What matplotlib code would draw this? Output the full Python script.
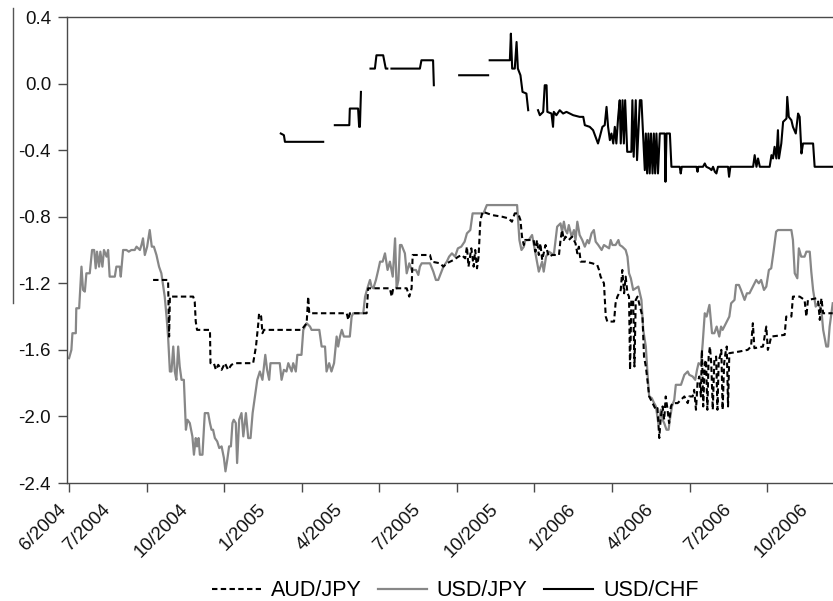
import numpy as np
import matplotlib
matplotlib.use("Agg")
import matplotlib.pyplot as plt
from matplotlib.lines import Line2D
from matplotlib.transforms import blended_transform_factory

plt.rcParams['font.family'] = ['Liberation Sans', 'DejaVu Sans']
plt.rcParams['axes.unicode_minus'] = False

nan = np.nan

# Time axis: months elapsed since the start of June 2004
jpy_m = [0.00, 0.09, 0.13, 0.26, 0.28, 0.39, 0.48, 0.54, 0.61, 0.67,
         0.80, 0.89, 0.97, 1.03, 1.08, 1.16, 1.21, 1.29, 1.35, 1.45,
         1.51, 1.57, 1.77, 1.83, 1.96, 2.00, 2.09, 2.22, 2.31, 2.41,
         2.54, 2.61, 2.74, 2.80, 2.86, 2.93, 3.02, 3.12, 3.20, 3.28,
         3.38, 3.48, 3.57, 3.70, 3.77, 3.83, 3.90, 3.96, 4.03, 4.09,
         4.15, 4.22, 4.28, 4.35, 4.44, 4.52, 4.58, 4.67, 4.77, 4.83,
         4.90, 4.95, 5.01, 5.06, 5.16, 5.25, 5.38, 5.45, 5.51, 5.57,
         5.64, 5.73, 5.81, 5.90, 5.99, 6.05, 6.12, 6.19, 6.26, 6.32,
         6.37, 6.45, 6.50, 6.58, 6.67, 6.74, 6.84, 6.93, 7.02, 7.10,
         7.19, 7.28, 7.38, 7.48, 7.59, 7.66, 7.74, 7.79, 7.96, 8.15,
         8.22, 8.31, 8.41, 8.48, 8.61, 8.67, 8.77, 8.83, 8.99, 9.06,
         9.19, 9.32, 9.38, 9.68, 9.77, 9.90, 9.96, 10.06, 10.15, 10.25,
         10.35, 10.41, 10.48, 10.55, 10.63, 10.86, 10.93, 10.99, 11.38, 11.45,
         11.54, 11.64, 11.70, 11.77, 11.87, 11.96, 12.03, 12.13, 12.22, 12.32,
         12.41, 12.52, 12.61, 12.67, 12.74, 12.80, 12.86, 12.99, 13.06, 13.16,
         13.25, 13.42, 13.51, 13.57, 13.64, 13.96, 14.09, 14.19, 14.28,
         14.48, 14.61, 14.70, 14.81, 14.93, 15.04, 15.17, 15.30, 15.39, 15.52,
         15.61, 15.84, 16.03, 16.16, 17.33, 17.42, 17.50, 17.59, 17.65, 17.78,
         17.91, 18.04, 18.17, 18.30, 18.36, 18.45, 18.56, 18.75, 18.88, 19.01,
         19.07, 19.14, 19.20, 19.27, 19.33, 19.44, 19.53, 19.59, 19.66, 19.75,
         19.85, 19.95, 20.05, 20.11, 20.21, 20.30, 20.37, 20.47, 20.60, 20.69,
         20.89, 20.95, 21.02, 21.14, 21.25, 21.30, 21.40, 21.53, 21.60, 21.66,
         21.73, 21.82, 21.92, 22.02, 22.08, 22.14, 22.21, 22.31, 22.37, 22.44,
         22.54, 22.63, 22.70, 22.80, 22.89, 22.96, 23.02, 23.11, 23.19, 23.24,
         23.32, 23.41, 23.47, 23.67, 23.80, 23.93, 23.99, 24.12, 24.22, 24.29,
         24.35, 24.44, 24.51, 24.59, 24.66, 24.77, 24.87, 24.96, 25.05, 25.15,
         25.22, 25.28, 25.41, 25.54, 25.61, 25.74, 25.80, 25.91, 25.99, 26.13,
         26.22, 26.32, 26.45, 26.58, 26.68, 26.77, 26.88, 26.97, 27.07, 27.16,
         27.25, 27.35, 27.42, 27.94, 28.00, 28.07, 28.17, 28.23, 28.32, 28.45,
         28.52, 28.65, 28.71, 28.78, 28.88, 28.97, 29.10, 29.17, 29.29, 29.36,
         29.42, 29.54]
jpy_v = [-1.65, -1.60, -1.50, -1.50, -1.35, -1.35, -1.10, -1.24, -1.25, -1.14,
         -1.14, -1.00, -1.00, -1.11, -1.01, -1.10, -1.01, -1.10, -1.00, -1.04,
         -1.00, -1.16, -1.16, -1.10, -1.10, -1.16, -1.00, -1.00, -1.01, -1.00,
         -1.00, -0.98, -1.00, -0.97, -0.93, -1.03, -0.98, -0.88, -0.98, -0.98,
         -1.03, -1.10, -1.14, -1.28, -1.40, -1.52, -1.73, -1.73, -1.58, -1.73,
         -1.78, -1.58, -1.70, -1.78, -1.78, -2.08, -2.02, -2.04, -2.12, -2.23,
         -2.13, -2.18, -2.13, -2.23, -2.23, -1.98, -1.98, -2.04, -2.08, -2.08,
         -2.13, -2.15, -2.19, -2.18, -2.25, -2.33, -2.26, -2.18, -2.18, -2.04,
         -2.02, -2.04, -2.28, -2.02, -1.98, -2.12, -1.98, -2.13, -2.13, -1.98,
         -1.88, -1.78, -1.73, -1.78, -1.63, -1.72, -1.78, -1.68, -1.68, -1.68,
         -1.78, -1.72, -1.73, -1.68, -1.73, -1.68, -1.73, -1.63, -1.63, -1.48,
         -1.44, -1.46, -1.48, -1.48, -1.58, -1.58, -1.73, -1.68, -1.73, -1.68,
         -1.52, -1.58, -1.52, -1.48, -1.52, -1.52, -1.40, -1.38, -1.38, -1.28,
         -1.23, -1.18, -1.22, -1.23, -1.18, -1.12, -1.07, -1.07, -1.02, -1.12,
         -1.07, -1.16, -0.93, -1.23, -1.18, -0.97, -0.97, -1.02, -1.14, -1.08,
         -1.12, -1.12, -1.15, -1.10, -1.08, -1.08, -1.13, -1.18, -1.18,
         -1.10, -1.07, -1.04, -1.02, -1.04, -0.99, -0.98, -0.95, -0.90, -0.88,
         -0.78, -0.78, -0.78, -0.73, -0.73, -0.94, -1.00, -0.98, -0.94, -0.94,
         -0.91, -1.02, -1.13, -1.07, -1.13, -1.04, -1.01, -1.03, -0.86, -0.84,
         -0.89, -0.83, -0.88, -0.90, -0.85, -0.92, -0.88, -0.94, -0.83, -0.91,
         -0.94, -0.98, -0.94, -0.96, -0.90, -0.88, -0.95, -0.97, -1.00, -0.97,
         -0.99, -0.94, -0.97, -0.97, -0.94, -0.97, -0.98, -1.00, -1.04, -1.14,
         -1.17, -1.24, -1.23, -1.22, -1.26, -1.30, -1.48, -1.58, -1.73, -1.88,
         -1.89, -1.92, -1.94, -2.05, -1.96, -2.02, -2.04, -2.08, -2.08, -2.02,
         -1.94, -1.90, -1.81, -1.81, -1.75, -1.73, -1.75, -1.76, -1.78, -1.72,
         -1.68, -1.69, -1.56, -1.38, -1.40, -1.33, -1.50, -1.50, -1.46, -1.52,
         -1.46, -1.48, -1.44, -1.40, -1.32, -1.30, -1.21, -1.21, -1.24, -1.30,
         -1.26, -1.26, -1.22, -1.18, -1.20, -1.18, -1.24, -1.22, -1.12, -1.11,
         -1.01, -0.89, -0.88, -0.88, -0.94, -1.14, -1.17, -0.99, -1.04, -1.04,
         -1.01, -1.01, -1.13, -1.24, -1.34, -1.32, -1.36, -1.48, -1.58, -1.58,
         -1.46, -1.32]

aud_m = [3.25, 3.83, 3.87, 3.90, 4.80, 4.86, 4.90, 4.95, 5.45, 5.47,
         5.60, 5.68, 5.77, 5.90, 6.03, 6.15, 6.28, 6.41, 7.12, 7.23,
         7.32, 7.35, 7.43, 7.48, 7.54, 8.99, 9.19, 9.25, 9.29, 10.74,
         10.80, 10.86, 11.51, 11.57, 12.41, 12.48, 12.54, 13.06, 13.16, 13.25,
         13.29, 13.96, 14.03,
         14.35, 14.48, 14.61, 14.74, 14.87, 15.06, 15.19, 15.32, 15.39, 15.45,
         15.56, 15.65, 15.71, 15.78, 15.84, 15.91, 16.00, 16.36, 16.75, 17.00,
         17.13, 17.24, 17.37, 17.46, 17.52, 17.59, 17.65, 17.97, 18.04, 18.10,
         18.17, 18.23, 18.30, 18.43, 18.56, 18.69, 18.95, 19.01, 19.07, 19.14,
         19.20, 19.33, 19.46, 19.59, 19.66, 19.72, 19.79, 19.98, 20.24, 20.43,
         20.50, 20.56, 20.69, 20.76, 20.82, 21.08, 21.14, 21.21, 21.34, 21.40,
         21.47, 21.53, 21.60, 21.66, 21.70, 21.75, 21.82, 21.87, 21.92, 21.99,
         22.05, 22.18, 22.24, 22.31, 22.37, 22.44, 22.57, 22.70, 22.76, 22.83,
         22.89, 22.96, 23.02, 23.08, 23.15, 23.21, 23.28, 23.34, 23.54, 23.67,
         23.80, 23.93, 23.99, 24.12, 24.18, 24.25, 24.31, 24.38, 24.44, 24.48,
         24.53, 24.59, 24.64, 24.69, 24.74, 24.79, 24.84, 24.90, 24.96, 25.03,
         25.08, 25.13, 25.18, 25.23, 25.28, 25.34, 25.39, 25.44, 25.49, 25.54,
         25.93, 26.25, 26.38, 26.45, 26.51, 26.84, 26.97, 27.03, 27.10, 27.16,
         27.68, 27.74, 27.94, 28.00, 28.26, 28.45, 28.52, 28.58, 28.91, 28.97,
         29.04, 29.10, 29.17, 29.54]
aud_v = [-1.18, -1.18, -1.52, -1.28, -1.28, -1.31, -1.43, -1.48, -1.48, -1.68,
         -1.68, -1.72, -1.69, -1.72, -1.68, -1.72, -1.69, -1.68, -1.68, -1.58,
         -1.44, -1.38, -1.40, -1.50, -1.48, -1.48, -1.44, -1.28, -1.38, -1.38,
         -1.42, -1.38, -1.38, -1.23, -1.23, -1.28, -1.23, -1.23, -1.28, -1.23,
         -1.03, -1.03, -1.07,
         -1.08, -1.10, -1.08, -1.07, -1.06, -1.04, -1.03, -1.05, -0.98, -1.10,
         -0.99, -1.10, -1.00, -1.11, -1.04, -0.82, -0.77, -0.79, -0.80, -0.81,
         -0.83, -0.78, -0.78, -0.82, -0.92, -0.97, -0.94, -0.94, -1.01, -0.94,
         -1.03, -0.96, -1.06, -0.97, -1.04, -1.03, -1.03, -0.94, -0.88, -0.94,
         -0.92, -0.94, -0.92, -0.96, -1.02, -0.98, -1.07, -1.07, -1.08, -1.09,
         -1.12, -1.16, -1.20, -1.40, -1.43, -1.43, -1.32, -1.28, -1.24, -1.12,
         -1.26, -1.16, -1.26, -1.28, -1.72, -1.30, -1.30, -1.70, -1.30, -1.28,
         -1.32, -1.40, -1.64, -1.70, -1.78, -1.88, -1.92, -1.96, -1.95, -2.13,
         -2.00, -1.94, -2.02, -1.88, -1.96, -2.04, -1.94, -1.92, -1.92, -1.90,
         -1.88, -1.92, -1.88, -1.88, -1.84, -1.96, -1.80, -1.76, -1.88, -1.60,
         -1.94, -1.68, -1.66, -1.96, -1.64, -1.58, -1.68, -1.96, -1.66, -1.64,
         -1.96, -1.66, -1.64, -1.60, -1.96, -1.68, -1.62, -1.58, -1.94, -1.62,
         -1.61, -1.60, -1.58, -1.44, -1.59, -1.58, -1.46, -1.60, -1.56, -1.52,
         -1.51, -1.40, -1.40, -1.28, -1.28, -1.30, -1.40, -1.30, -1.29, -1.30,
         -1.42, -1.29, -1.38, -1.38]

# USD/CHF has missing stretches early on (NaN breaks the line)
chf_m = [8.19, 8.31, 8.35, 9.83, nan,
         10.28, 10.84, 10.86, 11.18, 11.22, 11.25, 11.29, nan,
         11.66, 11.83, 11.89, 12.15, 12.25, 12.31, nan,
         12.47, 13.57, 13.63, 14.08, 14.11, nan,
         15.09, 16.21, nan,
         16.27, 17.05, 17.09, 17.14, 17.24, 17.31, 17.36, 17.46, 17.54, 17.69, 17.76, nan,
         18.14, 18.21, 18.34, 18.40, 18.47, 18.50, 18.66, 18.72, 18.75, 18.85,
         18.98, 19.11, 19.24, 19.37, 19.50, 19.75, 19.89, 19.95, 20.14, 20.27,
         20.34, 20.46, 20.53, 20.63, 20.72, 20.79, 20.85, 20.92, 20.98, 21.05,
         21.11, 21.17, 21.24, 21.30, 21.34, 21.41, 21.46, 21.51, 21.59, 21.75,
         21.79, 21.84, 21.92, 21.97, 22.08, 22.14, 22.20, 22.27, 22.31, 22.36,
         22.41, 22.46, 22.51, 22.57, 22.62, 22.67, 22.72, 22.78, 22.85, 23.04,
         23.07, 23.11, 23.24, 23.30, 23.62, 23.66, 23.70, 24.27, 24.31, 24.34,
         24.52, 24.59, 24.65, 24.78, 24.85, 24.91, 24.98, 25.04, 25.10, 25.49,
         25.53, 25.58, 26.46, 26.52, 26.59, 26.65, 26.72, 27.10, 27.17, 27.23,
         27.29, 27.36, 27.42, 27.46, 27.55, 27.62, 27.75, 27.78, 27.84, 27.94,
         28.00, 28.11, 28.20, 28.26, 28.33, 28.39, 28.78, 28.84, 29.55]
chf_v = [-0.30, -0.31, -0.35, -0.35, nan,
         -0.25, -0.25, -0.15, -0.15, -0.26, -0.26, -0.05, nan,
         0.09, 0.09, 0.17, 0.17, 0.09, 0.09, nan,
         0.09, 0.09, 0.14, 0.14, -0.01, nan,
         0.05, 0.05, nan,
         0.14, 0.14, 0.30, 0.09, 0.09, 0.25, 0.09, 0.05, -0.05, -0.06, -0.16, nan,
         -0.16, -0.19, -0.17, -0.01, -0.01, -0.17, -0.18, -0.26, -0.17, -0.19,
         -0.16, -0.18, -0.17, -0.18, -0.19, -0.20, -0.20, -0.25, -0.26, -0.28,
         -0.31, -0.36, -0.32, -0.26, -0.25, -0.14, -0.26, -0.34, -0.30, -0.36,
         -0.26, -0.36, -0.20, -0.10, -0.36, -0.10, -0.36, -0.10, -0.41, -0.41,
         -0.10, -0.44, -0.10, -0.46, -0.10, -0.10, -0.30, -0.52, -0.30, -0.54,
         -0.30, -0.54, -0.30, -0.54, -0.30, -0.54, -0.30, -0.54, -0.30, -0.30,
         -0.59, -0.30, -0.30, -0.50, -0.50, -0.54, -0.50, -0.50, -0.53, -0.50,
         -0.50, -0.48, -0.50, -0.51, -0.52, -0.50, -0.53, -0.54, -0.50, -0.50,
         -0.56, -0.50, -0.50, -0.43, -0.50, -0.45, -0.50, -0.50, -0.43, -0.45,
         -0.38, -0.45, -0.28, -0.45, -0.36, -0.23, -0.21, -0.08, -0.20, -0.22,
         -0.26, -0.30, -0.18, -0.20, -0.42, -0.36, -0.36, -0.50, -0.50]

quarter_ticks = [0, 3, 6, 9, 12, 15, 18, 21, 24, 27]
date_labels = ['6/2004', '7/2004', '10/2004', '1/2005', '4/2005', '7/2005',
               '10/2005', '1/2006', '4/2006', '7/2006', '10/2006']
label_pos = [-0.23, 1.5, 4.5, 7.5, 10.5, 13.5, 16.5, 19.5, 22.5, 25.5, 28.5]
y_ticks = [0.4, 0.0, -0.4, -0.8, -1.2, -1.6, -2.0, -2.4]
y_labels = ['0.4', '0.0', '-0.4', '-0.8', '-1.2', '-1.6', '-2.0', '-2.4']

W, H = 833, 601
fig = plt.figure(figsize=(W / 100, H / 100), dpi=100)
ax = fig.add_axes([67 / W, 1 - 483 / H, 1 - 67 / W, 466 / H])

gray = '#878787'
h_jpy, = ax.plot(jpy_m, jpy_v, color=gray, lw=1.6, label='USD/JPY', zorder=2)
h_aud, = ax.plot(aud_m, aud_v, color='black', lw=1.5, ls=(0, (2.6, 1.6)),
                 label='AUD/JPY', zorder=3)
h_chf, = ax.plot(chf_m, chf_v, color='black', lw=1.5, label='USD/CHF', zorder=4)

ax.set_xlim(-0.08, 29.55)
ax.set_ylim(-2.4, 0.4)

spine_col = '#4a4a4a'
for side in ('left', 'top', 'bottom'):
    ax.spines[side].set_color(spine_col)
    ax.spines[side].set_linewidth(1.0)
ax.spines['right'].set_visible(False)

ax.set_yticks(y_ticks)
ax.set_yticklabels(y_labels)
ax.tick_params(axis='y', direction='out', length=6.5, width=1.0, color=spine_col,
               labelsize=13.5, pad=5, labelcolor='#111111')
ax.set_xticks(quarter_ticks)
ax.set_xticklabels([])
ax.tick_params(axis='x', direction='out', length=6.5, width=1.0, color=spine_col)

trans = blended_transform_factory(ax.transData, ax.transAxes)
for pos, lab in zip(label_pos, date_labels):
    ax.text(pos, -0.0515, lab, transform=trans, rotation=45,
            rotation_mode='anchor', ha='right', va='center',
            fontsize=13.5, color='#111111', clip_on=False)

# stray rule at the left margin
fig.add_artist(Line2D([13.3 / W, 13.3 / W], [1 - 8 / H, 1 - 303 / H],
                      transform=fig.transFigure, color='#555555', lw=1.0))

fig.legend(handles=[h_aud, h_jpy, h_chf], loc='center',
           bbox_to_anchor=(455 / W, 1 - 591 / H), ncol=3, frameon=False,
           fontsize=15.5, handlelength=2.3, handletextpad=0.45,
           columnspacing=0.75, borderpad=0, borderaxespad=0)

fig.savefig('out.png', dpi=100)
